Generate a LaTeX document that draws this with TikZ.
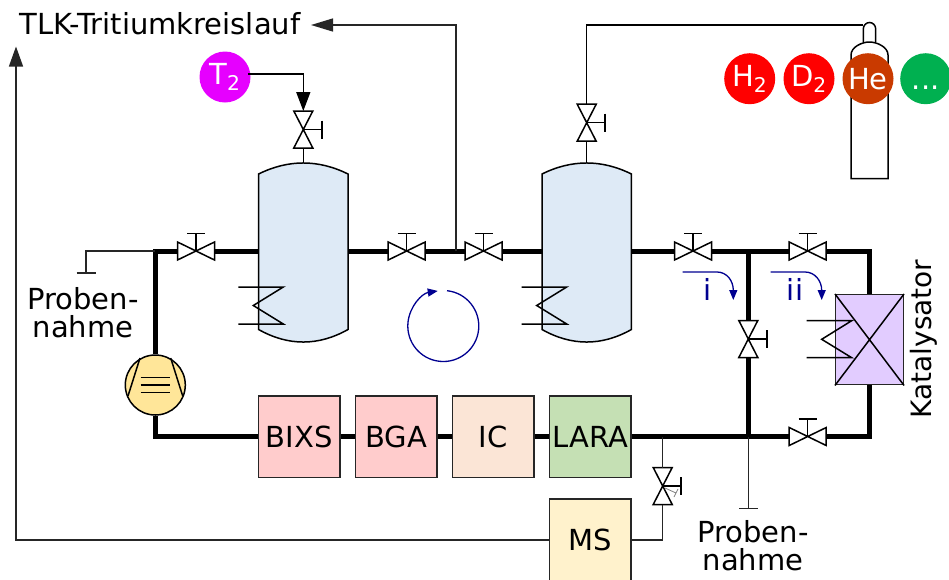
\documentclass[tikz,border=0pt]{standalone}
\usepackage{fontspec}
\setmainfont{DejaVu Sans}
\usepackage{tikz}
\usetikzlibrary{positioning, calc, arrows.meta}

\definecolor{vesselblue}{HTML}{DEEAF6}
\definecolor{loopblue}{HTML}{000090}
\definecolor{tritium}{HTML}{E600FF}
\definecolor{helium}{HTML}{C93A00}
\definecolor{other}{HTML}{00B050}
\definecolor{bixscol}{HTML}{FFCCCC}
\definecolor{iccol}{HTML}{FBE5D6}
\definecolor{laracol}{HTML}{C5E0B4}
\definecolor{mscol}{HTML}{FFF2CC}
\definecolor{katcol}{HTML}{E2CCFF}
\definecolor{pumpcol}{HTML}{FFE699}

\tikzset{
    thinline/.style={draw=black!85, line width=1.4pt},
    pipe/.style={draw=black, line width=5pt, line cap=butt},
    symline/.style={draw=black, line width=1.5pt, line join=miter},
    valveh/.pic={
        \draw[symline, fill=white] (-18.5,-9) -- (18.5,9) -- (18.5,-9) -- (-18.5,9) -- cycle;
        \draw[symline] (0,0) -- (0,-17.5) (-9,-17.5) -- (9,-17.5);
        \coordinate (-w) at (-18.5,0);
        \coordinate (-e) at (18.5,0);
    },
    valvev/.pic={
        \draw[symline, fill=white] (-9.5,-18.5) -- (9.5,18.5) -- (-9.5,18.5) -- (9.5,-18.5) -- cycle;
        \draw[symline] (0,0) -- (18.5,0) (18.5,-9) -- (18.5,9);
        \coordinate (-n) at (0,-18.5);
        \coordinate (-s) at (0,18.5);
    },
    vessel/.pic={
        \draw[symline, fill=vesselblue] (-44.7,-77) .. controls (-15,-91.7) and (15,-91.7) .. (44.7,-77)
            -- (44.7,78.5) .. controls (15,95.2) and (-15,95.2) .. (-44.7,78.5) -- cycle;
        \draw[symline] (-65,36) -- (-20,36) -- (-50,54.5) -- (-20,73) -- (-65,73);
        \coordinate (-n) at (0,-88);
        \coordinate (-w) at (-44.7,0);
        \coordinate (-e) at (44.7,0);
    }
}

\begin{document}
\begin{tikzpicture}[
    x=1pt, y=-1pt,
    every node/.style={align=center, font=\fontsize{29}{28}\selectfont},
    unit/.style={draw=black!85, line width=1.5pt, minimum width=81.5pt, minimum height=81.5pt, inner sep=0pt},
    gas/.style={circle, minimum size=51pt, inner sep=0pt, text=white},
    txt/.style={inner sep=0pt},
    loopline/.style={draw=loopblue, line width=1.3pt},
    smalltip/.style={-{Triangle[length=10pt, width=8pt]}}
]
    \useasboundingbox (0,0) rectangle (949,579);

    % Gas bottle
    \draw[symline, fill=white] (863.3,42) -- (863.3,29) arc[start angle=180, end angle=360, x radius=6.2pt, y radius=-6.5pt] -- (875.7,42);
    \draw[symline, fill=white] (851,178.7) -- (851,55) .. controls (851,47) and (862,42) .. (869.3,42)
        .. controls (877,42) and (888,47) .. (888,55) -- (888,178.7) -- cycle;
    \coordinate (bottle) at (863.3,25);

    % Gases
    \node[gas, fill=tritium] (t2) at (225,77) {T\textsubscript{2}};
    \node[gas, fill=red] (h2) at (749.7,78.7) {H\textsubscript{2}};
    \node[gas, fill=red] (d2) at (809,78.7) {D\textsubscript{2}};
    \node[gas, fill=helium] (he) at (868,78.7) {He};
    \node[gas, fill=other] (more) at (925.7,78.7) {\vphantom{H}...};

    % Vessels
    \pic (tank1) at (303.3,251) {vessel};
    \pic (tank2) at (586.7,251) {vessel};

    % Valves
    \pic (vleft) at (196,251) {valveh};
    \pic (vmid1) at (406.7,251) {valveh};
    \pic (vmid2) at (483.5,251) {valveh};
    \pic (vright1) at (693,251) {valveh};
    \pic (vright2) at (807.7,251) {valveh};
    \pic (vlow) at (807.7,436.5) {valveh};
    \pic (vtop1) at (303.3,129.5) {valvev};
    \pic (vtop2) at (586.7,122.7) {valvev};
    \pic (vcross) at (748.3,339) {valvev};
    \pic (vms) at (662.7,486) {valvev};
    \draw[draw=black!50, line width=0.8pt] (665,488) -- (676,493) (674,497) -- (678,489);

    % Units
    \node[unit, fill=bixscol] (bixs) at (299.3,436.5) {BIXS};
    \node[unit, fill=bixscol] (bga) at (396.3,436.5) {BGA};
    \node[unit, fill=iccol] (ic) at (493.1,436.5) {IC};
    \node[unit, fill=laracol] (lara) at (590.2,436.5) {LARA};
    \node[unit, fill=mscol, minimum height=82pt] (ms) at (590.2,540) {MS};

    % Pump
    \node[circle, draw=black, line width=1.5pt, fill=pumpcol, minimum size=60pt, inner sep=0pt] (pump) at (155.3,385) {};
    \draw[symline] (140,358) -- (128,396) (170.7,358) -- (182.7,396);
    \draw[symline] (140.7,377.3) -- (170,377.3) (140.7,385) -- (170,385) (140.7,392.7) -- (170,392.7);

    % Catalyst
    \node[unit, fill=katcol, minimum width=67.6pt, minimum height=90pt] (kat) at (869.5,339.7) {};
    \draw[symline] (kat.north west) -- (kat.south east) (kat.north east) -- (kat.south west);
    \draw[symline] (806.7,320.7) -- (851.7,320.7) -- (821.7,339.3) -- (851.7,357.7) -- (806.7,357.7);

    % Corners
    \coordinate (cornerleft) at (155.3,251);
    \coordinate (cornerlow) at (155.3,436.5);
    \coordinate (cornerkat) at (869.5,251);
    \coordinate (cornerkatlow) at (869.5,436.5);
    \coordinate (jtop) at (748.3,251);
    \coordinate (jlow) at (748.3,436.5);
    \coordinate (jms) at (662.7,436.5);
    \coordinate (jtlk) at (456,251);

    % Main loop
    \foreach \i/\j in {vleft-e/tank1-w, tank1-e/vmid1-w, vmid1-e/vmid2-w, vmid2-e/tank2-w, tank2-e/vright1-w, vright1-e/vright2-w, bixs/bga, bga/ic, ic/lara, jtop/vcross-n, vcross-s/jlow, lara/vlow-w} {
        \draw[pipe] (\i) -- (\j);
    }
    \draw[pipe, line join=miter] (vleft-w) -- (cornerleft) -- (pump);
    \draw[pipe, line join=miter] (pump) -- (cornerlow) -- (bixs);
    \draw[pipe, line join=miter] (vright2-e) -- (cornerkat) -- (kat);
    \draw[pipe, line join=miter] (kat) -- (cornerkatlow) -- (vlow-e);

    % Thin lines
    \coordinate (sampleleft) at (86,273);
    \coordinate (sampleright) at (748.3,508.7);
    \coordinate (tlkend) at (311,25);
    \coordinate (msend) at (16,46.5);
    \coordinate (t2out) at (248,74);
    \draw[thinline] (cornerleft) -| (sampleleft);
    \draw[thinline] (76.5,273) -- (96,273);
    \draw[thinline] (jlow) -- (sampleright);
    \draw[thinline] (739,508.7) -- (758,508.7);
    \draw[thinline] (jms) -- (vms-n);
    \draw[thinline] (vms-s) |- (ms.east);
    \draw[thinline, -{Triangle[length=20pt, width=14pt]}] (ms.west) -| (msend);
    \draw[thinline, -{Triangle[length=22pt, width=13pt]}] (jtlk) |- (tlkend);
    \draw[symline, -{Triangle[length=19pt, width=14pt]}] (t2out) -| (vtop1-n);
    \draw[symline] (vtop1-s) -- (tank1-n);
    \draw[symline] (vtop2-s) -- (tank2-n);
    \draw[symline] (vtop2-n) |- (bottle);

    % Circulation
    \coordinate (loopstart) at (447,290.7);
    \draw[loopline, smalltip] (loopstart) arc[start angle=84, end angle=-261, radius=35.5pt];

    % Routes
    \coordinate (routeistart) at (682.7,272);
    \coordinate (routeiistart) at (770.7,272);
    \draw[loopline, smalltip] (routeistart) -- (717,272) .. controls (727,272) and (733.3,281) .. (733.3,300);
    \draw[loopline, smalltip] (routeiistart) -- (805,272) .. controls (815,272) and (821.7,281) .. (821.7,300);
    \node[txt, text=loopblue] (routei) at (707.3,289.5) {i};
    \node[txt, text=loopblue] (routeii) at (795,289.5) {ii};

    % Labels
    \node[txt] (tlk) at (160,24) {TLK-Tritiumkreislauf};
    \node[txt] (sample1) at (83,313) {Proben-\\nahme};
    \node[txt] (sample2) at (753,546) {Proben-\\nahme};
    \node[txt, rotate=90, font=\fontsize{28}{28}\selectfont] (katlabel) at (924,339) {Katalysator};
\end{tikzpicture}
\end{document}
